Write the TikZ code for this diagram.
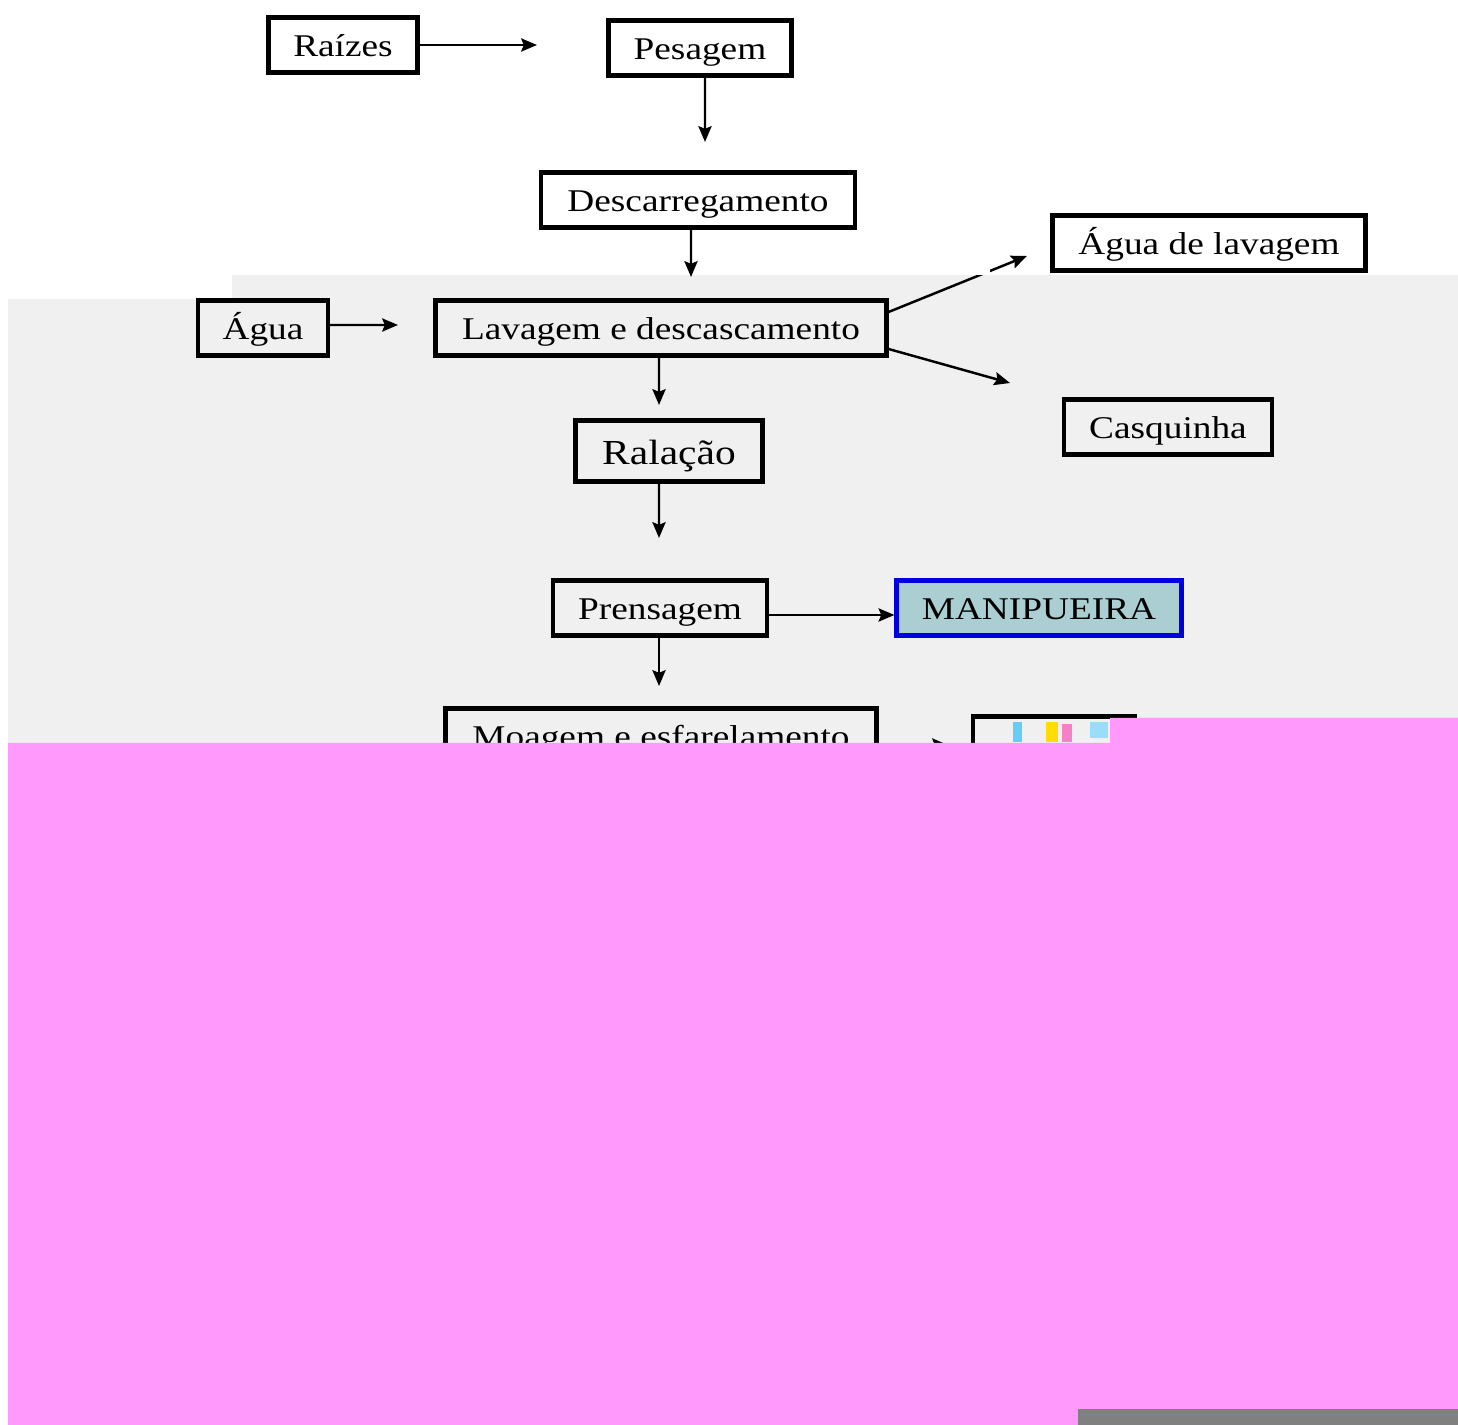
\documentclass[tikz,border=0pt]{standalone}
\usepackage{fontspec}
\setmainfont{Liberation Serif}
\newfontfamily\fonteboite{Liberation Serif}[FakeStretch=1.18]
\usetikzlibrary{arrows.meta}
\definecolor{fondgris}{RGB}{240,240,240}
\definecolor{rose}{RGB}{255,153,252}
\definecolor{bleuclair}{RGB}{170,206,210}
\definecolor{bleufonce}{RGB}{0,0,225}
\begin{document}
\begin{tikzpicture}[x=0.02cm,y=-0.02cm]
\tikzstyle{lien}=[->,>={Stealth[length=9pt,width=7.5pt,inset=1.5pt]},line width=1.4pt]
\tikzset{etape/.style={draw,line width=2.4pt,fill=#1,minimum height=1.1cm,
text height=13.5pt,text depth=0pt,
font=\fonteboite\fontsize{18}{22}\selectfont},
etape/.default={none}}
% fond
\fill[white] (0,0) rectangle (1458,1425);
\useasboundingbox (0,0) rectangle (1458,1425);
\fill[fondgris] (8,299) -- (232,299) -- (232,275) -- (1458,275) -- (1458,1425) -- (8,1425) -- cycle;

\node[etape,minimum width=2.98cm] (raizes) at (343,45) {Raízes};
\node[etape,minimum width=3.66cm] (pesagem) at (700,48) {Pesagem};
\node[etape,minimum width=6.28cm] (descarga) at (698,200) {Descarregamento};
\node[etape,minimum width=6.26cm] (aguaLav) at (1209,243) {Água de lavagem};
\node[etape,minimum width=2.6cm] (agua) at (263,328) {Água};
\node[etape,minimum width=9.02cm] (lavagem) at (661,328) {Lavagem e descascamento};
\node[etape,minimum width=4.16cm] (casca) at (1168,427) {Casquinha};
\node[etape,minimum width=3.74cm,minimum height=1.22cm,text height=15pt,font=\fonteboite\fontsize{20}{24}\selectfont] (ralacao) at (669,451) {Ralação};
\node[etape,minimum width=4.28cm] (prensa) at (660,608) {Prensagem};
\node[etape=bleuclair,draw=bleufonce,minimum width=5.7cm] (manip) at (1039,608) {MANIPUEIRA};
\node[etape,minimum width=8.62cm] (moagem) at (661,736) {Moagem e esfarelamento};
\node[etape,minimum width=3.24cm] (goma) at (1054,744) {};

\coordinate (fRaiz) at (537,45);
\coordinate (fPes) at (705,142);
\coordinate (fDesc) at (691,277);
\coordinate (fAgua) at (398,325);
\coordinate (fLavH) at (1027,256);
\coordinate (fLavB) at (1010,383);
\coordinate (fLav) at (659,405);
\coordinate (fRal) at (659,538);
\coordinate (fPren) at (659,686);
\coordinate (fMoag) at (948,745);

\draw[lien] (raizes) -- (fRaiz);
\draw[lien] ([xshift=0.1cm]pesagem.south) -- (fPes);
\draw[lien] ([xshift=-0.14cm]descarga.south) -- (fDesc);
\draw[lien] ([yshift=0.06cm]agua.east) -- (fAgua);
\draw[lien] ([yshift=0.32cm]lavagem.east) -- (fLavH);
\draw[lien] ([yshift=-0.42cm]lavagem.east) -- (fLavB);
\draw[lien] ([xshift=-0.04cm]lavagem.south) -- (fLav);
\draw[lien] ([xshift=-0.2cm]ralacao.south) -- (fRal);
\draw[lien] ([yshift=-0.14cm]prensa.east) -- ([yshift=-0.14cm]manip.west);
\draw[lien] ([xshift=-0.02cm]prensa.south) -- (fPren);
\draw[lien] ([yshift=-0.18cm]moagem.east) -- (fMoag);

% taches de couleur
\fill[white] (958,258) rectangle (990,275);
\fill[cyan!60] (1013,722) rectangle (1022,742);
\fill[yellow!80!orange] (1046,722) rectangle (1058,742);
\fill[cyan!40] (1090,722) rectangle (1108,738);
\fill[magenta!50] (1062,724) rectangle (1072,742);

\fill[rose] (8,743) -- (1110,743) -- (1110,718) -- (1458,718) -- (1458,1425) -- (8,1425) -- cycle;
\fill[gray] (1078,1409) rectangle (1458,1425);
\end{tikzpicture}
\end{document}
